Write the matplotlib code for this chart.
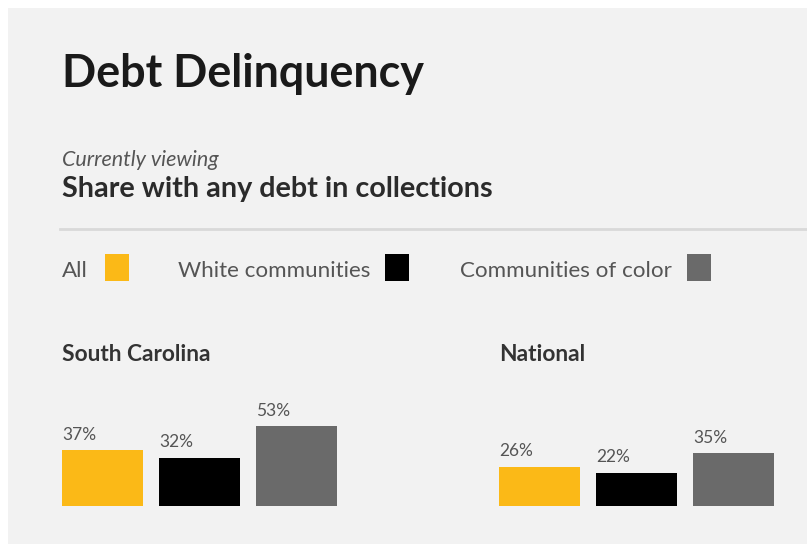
import matplotlib
matplotlib.use("Agg")
import matplotlib.pyplot as plt
from matplotlib.patches import Rectangle
from matplotlib.lines import Line2D

# ---- data ----
groups = ["All", "White communities", "Communities of color"]
colors = ["#fbb917", "#000000", "#6a6a6a"]
regions = ["South Carolina", "National"]
south_carolina = [37, 32, 53]
national = [26, 22, 35]

W, H = 807, 544
fig = plt.figure(figsize=(W / 100, H / 100), dpi=100)
fig.patch.set_facecolor("white")
FONT = ["Lato", "DejaVu Sans"]

def fx(x):
    return x / W

def fy(y):
    return 1 - y / H

# panel background
fig.patches.append(Rectangle((fx(8), 0), 1 - fx(8), fy(8), transform=fig.transFigure,
                             facecolor="#f2f2f2", edgecolor="none", zorder=-5))

# title & subtitle
fig.text(fx(62), fy(87), "Debt Delinquency", family=FONT, weight="bold",
         fontsize=32.3, color="#1a1a1a", ha="left", va="baseline")
fig.text(fx(62), fy(166), "Currently viewing", family=FONT, style="italic",
         fontsize=15.5, color="#555555", ha="left", va="baseline")
fig.text(fx(62), fy(197), "Share with any debt in collections", family=FONT, weight="bold",
         fontsize=20.7, color="#2b2b2b", ha="left", va="baseline")

# separator line
fig.lines.append(Line2D([fx(60), 1], [fy(229), fy(229)], transform=fig.transFigure,
                        color="#d9d9d9", lw=2))

# legend
legend_text_x = [62, 178, 460]
legend_box_x = [105, 385, 687]
for name, c, tx, bx in zip(groups, colors, legend_text_x, legend_box_x):
    fig.text(fx(tx), fy(277), name, family=FONT, fontsize=16.1, color="#555555",
             ha="left", va="baseline")
    fig.patches.append(Rectangle((fx(bx), fy(281)), 24 / W, 27 / H, transform=fig.transFigure,
                                 facecolor=c, edgecolor="none", zorder=1))

# region bar charts
w = 0.835
unit = 97.0
ymax = 60
px_per = 1.51
region_left = [62, 499]
for name, vals, left in zip(regions, [south_carolina, national], region_left):
    fig.text(fx(left), fy(361), name, family=FONT, weight="bold", fontsize=16.4,
             color="#333333", ha="left", va="baseline")
    ax = fig.add_axes([fx(left), fy(506), (2 + w) * unit / W, ymax * px_per / H])
    ax.set_facecolor("none")
    ax.set_zorder(2)
    xs = list(range(len(vals)))
    ax.bar(xs, vals, width=w, color=colors)
    ax.set_xlim(-w / 2, 2 + w / 2)
    ax.set_ylim(0, ymax)
    for i, v in zip(xs, vals):
        ax.annotate(f"{v}%", xy=(i - w / 2, v), xytext=(0, 7.5), textcoords="offset points",
                    ha="left", va="baseline", family=FONT, fontsize=12.5, color="#555555",
                    annotation_clip=False)
    ax.axis("off")

fig.savefig("out.png", dpi=100, facecolor=fig.get_facecolor())
